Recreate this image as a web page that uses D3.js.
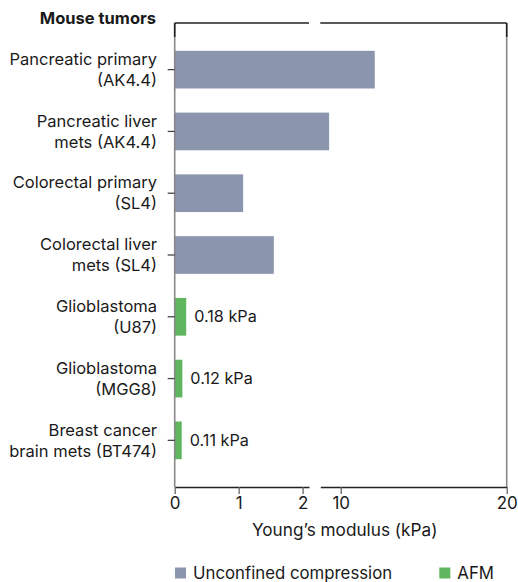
<!DOCTYPE html>
<html>
<head>
<meta charset="utf-8">
<script src="https://cdn.jsdelivr.net/npm/d3@7"></script>
<style>
  body { margin: 0; background: #fff; }
  text { font-family: Inter, Roboto, "Noto Sans", sans-serif; fill: #1a1a1a; }
</style>
</head>
<body>
<svg id="chart" width="518" height="582"></svg>
<script>
// ---- data ----
const categories = [
  ["Pancreatic primary", "(AK4.4)"],
  ["Pancreatic liver", "mets (AK4.4)"],
  ["Colorectal primary", "(SL4)"],
  ["Colorectal liver", "mets (SL4)"],
  ["Glioblastoma", "(U87)"],
  ["Glioblastoma", "(MGG8)"],
  ["Breast cancer", "brain mets (BT474)"]
];
const values = [12.05, 9.3, 1.07, 1.55, 0.18, 0.12, 0.11];
const methods = ["UC", "UC", "UC", "UC", "AFM", "AFM", "AFM"];
const leftTicks = [0, 1, 2];
const rightTicks = [10, 20];
const methodNames = ["Unconfined compression", "AFM"];
const methodKeys = ["UC", "AFM"];
const methodColors = ["#8b95ad", "#5fb65f"];

// ---- layout ----
const svg = d3.select("#chart");
const FONT = "Inter, Roboto, sans-serif";
const x0 = 174.7, x1 = 506.7, yTop = 23, yBot = 487;
const breakL = 309, breakR = 320.3;
const leftDomain = [0, 2.1], rightDomain = [8.77, 20];

const xLeft = d3.scaleLinear().domain(leftDomain).range([x0, breakL]);
const xRight = d3.scaleLinear().domain(rightDomain).range([breakR, x1]);
const x = d3.scaleLinear()
  .domain([leftDomain[0], leftDomain[1], rightDomain[0], rightDomain[1]])
  .range([x0, breakL, breakR, x1]);

const y = d3.scaleBand()
  .domain(d3.range(categories.length))
  .range([yTop, yBot])
  .paddingInner(0.39)
  .paddingOuter(0.45);

const color = d3.scaleOrdinal().domain(methodKeys).range(methodColors);

// bars
svg.append("g").selectAll("rect")
  .data(values)
  .join("rect")
  .attr("x", x(0))
  .attr("y", (d, i) => y(i))
  .attr("width", d => x(d) - x(0))
  .attr("height", y.bandwidth())
  .attr("fill", (d, i) => color(methods[i]));

// value labels for AFM bars
svg.append("g").selectAll("text")
  .data(values.map((v, i) => ({v, i})).filter(d => methods[d.i] === "AFM"))
  .join("text")
  .attr("x", d => x(d.v) + 8)
  .attr("y", d => y(d.i) + y.bandwidth() / 2)
  .attr("dy", "0.35em")
  .attr("font-size", 16.2)
  .text(d => d3.format(".2f")(d.v) + " kPa");

// frame: vertical lines
const frame = svg.append("g");
[x0, x1].forEach(xx => {
  frame.append("line")
    .attr("x1", xx).attr("x2", xx).attr("y1", yTop).attr("y2", yBot)
    .attr("stroke", "#888").attr("stroke-width", 1.6);
  frame.append("line")
    .attr("x1", xx).attr("x2", xx).attr("y1", yTop).attr("y2", yTop + 14)
    .attr("stroke", "#222").attr("stroke-width", 1.6);
});
// top broken line
[[x0, breakL], [breakR, x1]].forEach(([a, b]) => {
  frame.append("line")
    .attr("x1", a).attr("x2", b).attr("y1", yTop).attr("y2", yTop)
    .attr("stroke", "#222").attr("stroke-width", 1.3);
});

// y axis ticks + labels
const yAxis = d3.axisLeft(y).tickSize(7).tickFormat("").tickSizeOuter(0);
const gy = svg.append("g").attr("transform", `translate(${x0},0)`).call(yAxis);
gy.select(".domain").remove();
gy.selectAll(".tick line").attr("stroke", "#444").attr("stroke-width", 1.3);

const ylab = svg.append("g").selectAll("text")
  .data(categories)
  .join("text")
  .attr("text-anchor", "end")
  .attr("font-size", 16.5)
  .attr("x", 157)
  .attr("y", (d, i) => y(i) + y.bandwidth() / 2);
ylab.each(function(d) {
  const t = d3.select(this);
  const cy = +t.attr("y");
  d.forEach((line, k) => {
    t.append("tspan")
      .attr("x", 157)
      .attr("y", cy + (k - 0.5) * 21)
      .attr("dy", "0.35em")
      .text(line);
  });
});

// title
svg.append("text")
  .attr("x", 156).attr("y", 18).attr("dy", "0.35em")
  .attr("text-anchor", "end")
  .attr("font-size", 16.5)
  .attr("font-weight", 700)
  .text("Mouse tumors");

// x axes (broken)
function styleAxis(g) {
  g.select(".domain").attr("stroke", "#222").attr("stroke-width", 1.3);
  g.selectAll(".tick line").attr("stroke", "#666").attr("stroke-width", 1.3);
  g.selectAll(".tick text").attr("font-size", 17).attr("fill", "#1a1a1a")
    .attr("font-family", FONT);
}
const gxL = svg.append("g").attr("transform", `translate(0,${yBot})`)
  .call(d3.axisBottom(xLeft).tickValues(leftTicks).tickFormat(d3.format("d"))
    .tickSize(7).tickSizeOuter(0).tickPadding(3));
styleAxis(gxL);
const gxR = svg.append("g").attr("transform", `translate(0,${yBot})`)
  .call(d3.axisBottom(xRight).tickValues(rightTicks).tickFormat(d3.format("d"))
    .tickSize(7).tickSizeOuter(0).tickPadding(3));
styleAxis(gxR);

svg.append("text")
  .attr("x", 344.7).attr("y", 530).attr("dy", "0.35em")
  .attr("text-anchor", "middle")
  .attr("font-size", 17.2)
  .text("Young\u2019s modulus (kPa)");

// legend
const legendX = [175, 439.3];
const lg = svg.append("g").selectAll("g")
  .data(methodNames)
  .join("g")
  .attr("transform", (d, i) => `translate(${legendX[i]},573)`);
lg.append("rect")
  .attr("x", 0).attr("y", -5.5).attr("width", 11).attr("height", 11)
  .attr("fill", (d, i) => methodColors[i]);
lg.append("text")
  .attr("x", 18).attr("y", 0).attr("dy", "0.35em")
  .attr("font-size", 16.8)
  .text(d => d);
</script>
</body>
</html>
